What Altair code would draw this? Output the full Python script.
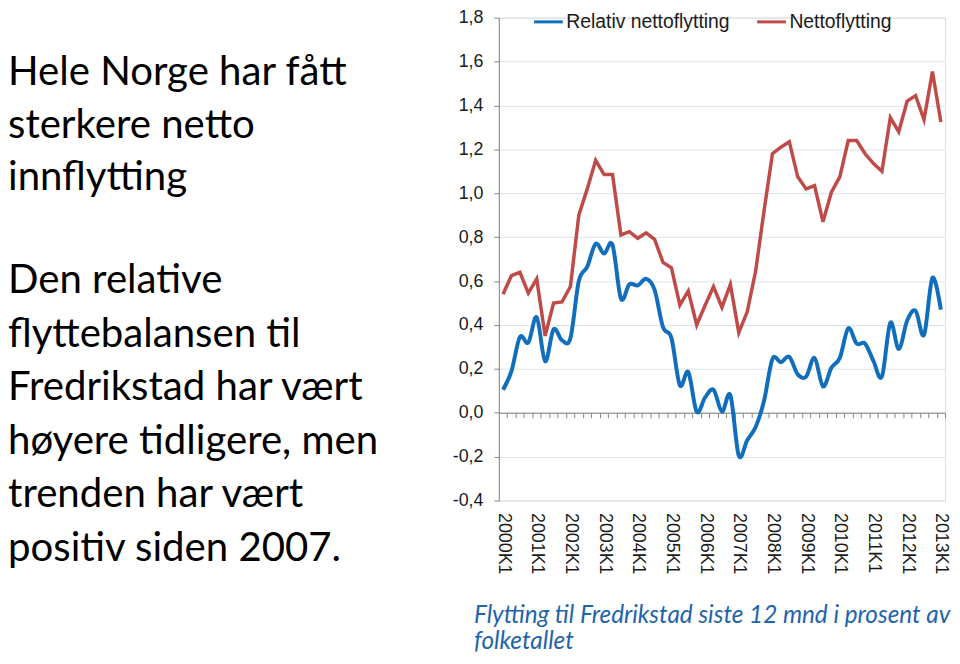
import json
import altair as alt
import pandas as pd

years = list(range(2000, 2014))
quarters = [f"{y}K{q}" for y in years for q in range(1, 5)][:53]

relativ = [0.105, 0.19, 0.345, 0.32, 0.435, 0.235, 0.38, 0.33, 0.34, 0.60,
           0.665, 0.77, 0.725, 0.765, 0.52, 0.585, 0.58, 0.61, 0.56, 0.39,
           0.34, 0.125, 0.185, 0.005, 0.07, 0.105, 0.005, 0.08, -0.195, -0.125,
           -0.065, 0.055, 0.245, 0.23, 0.255, 0.175, 0.165, 0.25, 0.12, 0.205,
           0.25, 0.385, 0.315, 0.315, 0.235, 0.165, 0.41, 0.29, 0.42, 0.465,
           0.355, 0.615, 0.47]

netto = [0.54, 0.625, 0.64, 0.545, 0.61, 0.35, 0.50, 0.505, 0.575, 0.90,
         1.02, 1.15, 1.085, 1.085, 0.81, 0.825, 0.795, 0.82, 0.79, 0.685,
         0.66, 0.49, 0.555, 0.40, 0.49, 0.575, 0.48, 0.585, 0.365, 0.46,
         0.645, 0.92, 1.18, 1.21, 1.235, 1.075, 1.02, 1.035, 0.87, 1.005,
         1.075, 1.24, 1.24, 1.18, 1.135, 1.10, 1.345, 1.28, 1.42, 1.445,
         1.335, 1.555, 1.325]

series_names = ["Relativ nettoflytting", "Nettoflytting"]
series_colors = ["#106EBC", "#BE4B48"]

para1 = "Hele Norge har fått\nsterkere netto\ninnflytting"
para2 = ("Den relative\nflyttebalansen til\nFredrikstad har vært\n"
         "høyere tidligere, men\ntrenden har vært\npositiv siden 2007.")
caption = "Flytting til Fredrikstad siste 12 mnd i prosent av\nfolketallet"

W, H = 450, 487
PAD_L, PAD_T, PAD_R, PAD_B = 495, 7, 7, 154
YMIN, YMAX = -0.4, 1.8
zero_offset = -H * (0 - YMIN) / (YMAX - YMIN)

df_rel = pd.DataFrame({"i": range(len(relativ)), "v": relativ, "s": series_names[0]})
df_net = pd.DataFrame({"i": range(len(netto)), "v": netto, "s": series_names[1]})

label_arr = json.dumps(quarters)

xscale = alt.Scale(domain=[-0.5, len(quarters) - 0.5], nice=False, zero=False)
yscale = alt.Scale(domain=[YMIN, YMAX], nice=False)

yaxis = alt.Axis(values=[round(-0.4 + 0.2 * k, 1) for k in range(12)],
                 labelExpr="(datum.value < -0.001 ? '-' : '') + replace(format(abs(datum.value), '.1f'), '.', ',')",
                 labelFont="Liberation Sans", labelFontSize=18, labelColor="#1a1a1a",
                 labelPadding=11, tickSize=5, tickColor="#868686",
                 domainColor="#868686", gridColor="#DCE2EA", title=None)

color = alt.Color("s:N", scale=alt.Scale(domain=series_names, range=series_colors),
                  legend=alt.Legend(title=None, orient="none", direction="horizontal",
                                    legendX=34, legendY=-12, padding=0,
                                    symbolType="stroke", symbolSize=841,
                                    symbolStrokeWidth=3, labelFont="Liberation Sans",
                                    labelFontSize=19.5, labelColor="#1a1a1a",
                                    labelLimit=400, labelOffset=2, columnPadding=21))

blue = alt.Chart(df_rel).mark_line(interpolate="cardinal", strokeWidth=4).encode(
    x=alt.X("i:Q", scale=xscale,
            axis=alt.Axis(orient="bottom", values=list(range(0, 53, 4)),
                          labelExpr=f"{label_arr}[datum.value]",
                          labelAngle=90, labelFont="Liberation Sans", labelFontSize=18,
                          labelColor="#1a1a1a", labelPadding=12, ticks=False,
                          domain=False, grid=False, title=None)),
    y=alt.Y("v:Q", scale=yscale, axis=yaxis),
    color=color,
)

red = alt.Chart(df_net).mark_line(strokeWidth=3.5).encode(
    x=alt.X("i:Q", scale=xscale,
            axis=alt.Axis(orient="bottom", values=[k + 0.5 for k in range(len(quarters))],
                          labels=False, ticks=True, tickSize=5, tickColor="#868686",
                          domain=True, domainColor="#868686", grid=False,
                          offset=zero_offset, title=None)),
    y=alt.Y("v:Q", scale=yscale, axis=yaxis),
    color=color,
)

t1 = alt.Chart(pd.DataFrame({"t": [para1]})).mark_text(
    align="left", baseline="alphabetic", lineBreak="\n", lineHeight=53,
    font="Lato", fontSize=40.5, color="#000000").encode(
    text="t:N", x=alt.value(-PAD_L), y=alt.value(83 - 8 - PAD_T))

t2 = alt.Chart(pd.DataFrame({"t": [para2]})).mark_text(
    align="left", baseline="alphabetic", lineBreak="\n", lineHeight=54,
    font="Lato", fontSize=40.5, color="#000000").encode(
    text="t:N", x=alt.value(-PAD_L), y=alt.value(293 - 8 - PAD_T))

t3 = alt.Chart(pd.DataFrame({"t": [caption]})).mark_text(
    align="left", baseline="alphabetic", lineBreak="\n", lineHeight=27,
    font="Lato", fontSize=24.5, fontStyle="italic", color="#1E64AA").encode(
    text="t:N", x=alt.value(478 - 8 - PAD_L), y=alt.value(625 - 8 - PAD_T))

chart = alt.layer(blue, red, t1, t2, t3).resolve_axis(x="independent").properties(
    width=W, height=H,
    padding={"left": PAD_L, "top": PAD_T, "right": PAD_R, "bottom": PAD_B},
    autosize=alt.AutoSizeParams(type="none"),
).configure_view(stroke=None).configure(background="white")

chart.save("out.html", embed_options={"renderer": "svg", "actions": False})
